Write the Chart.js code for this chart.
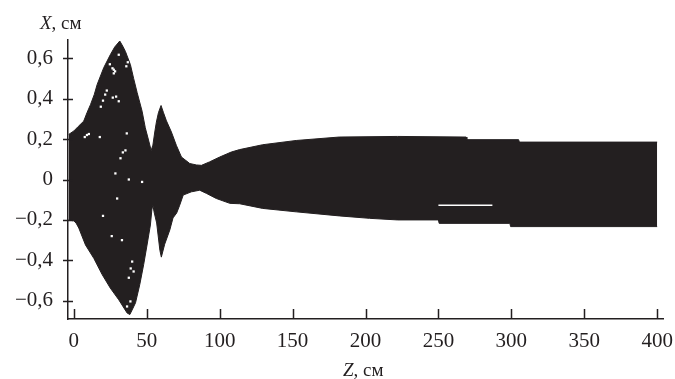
<!DOCTYPE html>
<html>

<head>
  <meta name="viewport" content="width=device-width,initial-scale=1.0">
  <title>X(Z)</title>
  <style>
    body {
      margin: 0;
      background: #fff;
    }

    .wrap {
      width: 675px;
      height: 379px;
    }
  </style>
</head>

<body>
  <div class="wrap">
    <canvas id="beam"></canvas>
  </div>

  <script src="https://cdn.jsdelivr.net/npm/chart.js"></script>

  <script>
    // upper edge of the beam envelope, X (cm) against Z (cm)
    const upperZ = [-3.5, 0, 3, 6.8, 9, 11.4, 14, 16, 20.5, 25, 28, 31.5, 33.5, 35.4, 38.8, 41, 43.4, 46.8, 49, 51.4, 53, 54.2, 55.5, 56.6, 58, 59.8, 61.5, 63.5, 66.9, 70.3, 73.8, 79.5, 84, 87.5, 93, 100, 108, 113.7, 129.5, 152.5, 182, 222, 269, 269.5, 305, 305.5, 400];
    const upperX = [0.223, 0.24, 0.262, 0.289, 0.33, 0.37, 0.42, 0.47, 0.553, 0.617, 0.655, 0.685, 0.66, 0.633, 0.568, 0.5, 0.43, 0.338, 0.256, 0.19, 0.144, 0.17, 0.235, 0.284, 0.33, 0.366, 0.33, 0.29, 0.235, 0.169, 0.111, 0.079, 0.072, 0.07, 0.087, 0.111, 0.136, 0.148, 0.172, 0.193, 0.21, 0.213, 0.21, 0.197, 0.197, 0.185, 0.185];

    // lower edge of the envelope
    const lowerZ = [-3.5, 0, 1.5, 3.4, 8, 13.7, 19.4, 25, 30.8, 36.5, 38.4, 40, 42.3, 45.2, 47.9, 50.2, 52.5, 53.5, 54.2, 55, 56.8, 59, 60, 62.3, 65.8, 68, 70.5, 72.6, 75, 80.6, 86.3, 91, 97.7, 107, 113.7, 129.5, 152.5, 182, 202.7, 222, 250, 250.5, 299, 299.5, 400];
    const lowerX = [-0.2, -0.205, -0.215, -0.24, -0.324, -0.39, -0.47, -0.537, -0.595, -0.66, -0.668, -0.645, -0.61, -0.52, -0.42, -0.324, -0.225, -0.15, -0.125, -0.16, -0.215, -0.35, -0.384, -0.32, -0.25, -0.19, -0.166, -0.127, -0.077, -0.061, -0.053, -0.069, -0.094, -0.118, -0.12, -0.143, -0.16, -0.18, -0.192, -0.2, -0.2, -0.217, -0.217, -0.233, -0.233];

    // empty spots inside the trajectory bundle
    const gapZ = [26.5, 27.4, 28.3, 27.4, 24.7, 30.8, 36, 37, 18.5, 20, 21.5, 22.6, 26.7, 30.8, 29, 7.5, 9, 10.3, 17.8, 33.6, 36.3, 35.4, 32, 28.5, 37.7, 29.7, 46.8, 40, 41, 37.7, 39, 38.8, 36.5, 26, 33, 20];
    const gapX = [0.55, 0.543, 0.535, 0.525, 0.57, 0.617, 0.56, 0.58, 0.36, 0.39, 0.42, 0.44, 0.405, 0.387, 0.41, 0.21, 0.22, 0.225, 0.21, 0.134, 0.228, 0.144, 0.105, 0.03, 0, -0.094, -0.012, -0.406, -0.455, -0.486, -0.44, -0.603, -0.628, -0.28, -0.3, -0.18];

    // thin white slit in the band
    const slitZ = [250, 287];
    const slitX = [-0.127, -0.127];

    const xTicks = [0, 50, 100, 150, 200, 250, 300, 350, 400];
    const yTicks = [-0.6, -0.4, -0.2, 0, 0.2, 0.4, 0.6];

    const ink = '#231f20';
    const serif = '"Liberation Serif", "Times New Roman", Times, serif';

    const pts = (zs, xs) => zs.map((z, i) => ({ x: z, y: xs[i] }));

    const decor = {
      id: 'decor',
      afterDraw(chart) {
        const { ctx, chartArea: a } = chart;
        const sx = chart.scales.x, sy = chart.scales.y;
        ctx.save();
        ctx.strokeStyle = ink;
        ctx.lineWidth = 1.5;
        ctx.beginPath();
        xTicks.forEach(v => {
          const p = Math.round(sx.getPixelForValue(v)) + 0.5;
          ctx.moveTo(p, a.bottom);
          ctx.lineTo(p, a.bottom - 10);
        });
        yTicks.forEach(v => {
          const p = Math.round(sy.getPixelForValue(v)) + 0.5;
          ctx.moveTo(a.left - 5, p);
          ctx.lineTo(a.left + 5, p);
        });
        ctx.stroke();

        // axis titles: italic letter + ", см"
        ctx.fillStyle = ink;
        ctx.textBaseline = 'alphabetic';
        const title = (letter, x, y) => {
          ctx.font = 'italic 19px ' + serif;
          ctx.fillText(letter, x, y);
          const w = ctx.measureText(letter).width;
          ctx.font = '19px ' + serif;
          ctx.fillText(', см', x + w, y);
        };
        title('X', 40, 29);
        title('Z', 343, 376);
        ctx.restore();
      }
    };

    new Chart(document.getElementById('beam'), {
      type: 'line',
      data: {
        datasets: [
          {
            data: pts(gapZ, gapX),
            type: 'scatter',
            order: 0,
            pointStyle: 'rect',
            pointRadius: 1.6,
            pointBorderWidth: 0,
            backgroundColor: '#fff',
            borderColor: '#fff'
          },
          {
            data: pts(slitZ, slitX),
            order: 0,
            borderColor: '#fff',
            borderWidth: 1.5,
            pointRadius: 0,
            fill: false
          },
          {
            data: pts(upperZ, upperX),
            order: 1,
            borderColor: ink,
            borderWidth: 1,
            backgroundColor: ink,
            pointRadius: 0,
            tension: 0,
            fill: '+1'
          },
          {
            data: pts(lowerZ, lowerX),
            order: 1,
            borderColor: ink,
            borderWidth: 1,
            backgroundColor: ink,
            pointRadius: 0,
            tension: 0,
            fill: false
          }
        ]
      },
      options: {
        responsive: true,
        maintainAspectRatio: false,
        animation: false,
        events: [],
        layout: { padding: { top: 40, right: 12, left: 0, bottom: 0 } },
        plugins: { legend: { display: false }, tooltip: { enabled: false } },
        scales: {
          x: {
            type: 'linear',
            min: -4,
            max: 404,
            afterFit: s => { s.height = 60; s.paddingLeft = 0; s.paddingRight = 0; },
            afterBuildTicks: s => { s.ticks = xTicks.map(v => ({ value: v })); },
            grid: { display: false, drawTicks: false },
            border: { display: true, color: ink, width: 1.5 },
            ticks: {
              padding: 10,
              color: ink,
              font: { family: serif, size: 21 },
              maxRotation: 0,
              callback: v => String(v)
            }
          },
          y: {
            type: 'linear',
            min: -0.69,
            max: 0.69,
            afterFit: s => { s.width = 68; s.paddingTop = 0; s.paddingBottom = 0; },
            afterBuildTicks: s => { s.ticks = yTicks.map(v => ({ value: v })); },
            grid: { display: false, drawTicks: false },
            border: { display: true, color: ink, width: 1.5 },
            ticks: {
              padding: 15,
              color: ink,
              font: { family: serif, size: 21 },
              callback: v => v === 0 ? '0' : (v < 0 ? '\u2212' : '') + Math.abs(v).toFixed(1).replace('.', ',')
            }
          }
        }
      },
      plugins: [decor]
    });
  </script>
</body>

</html>
